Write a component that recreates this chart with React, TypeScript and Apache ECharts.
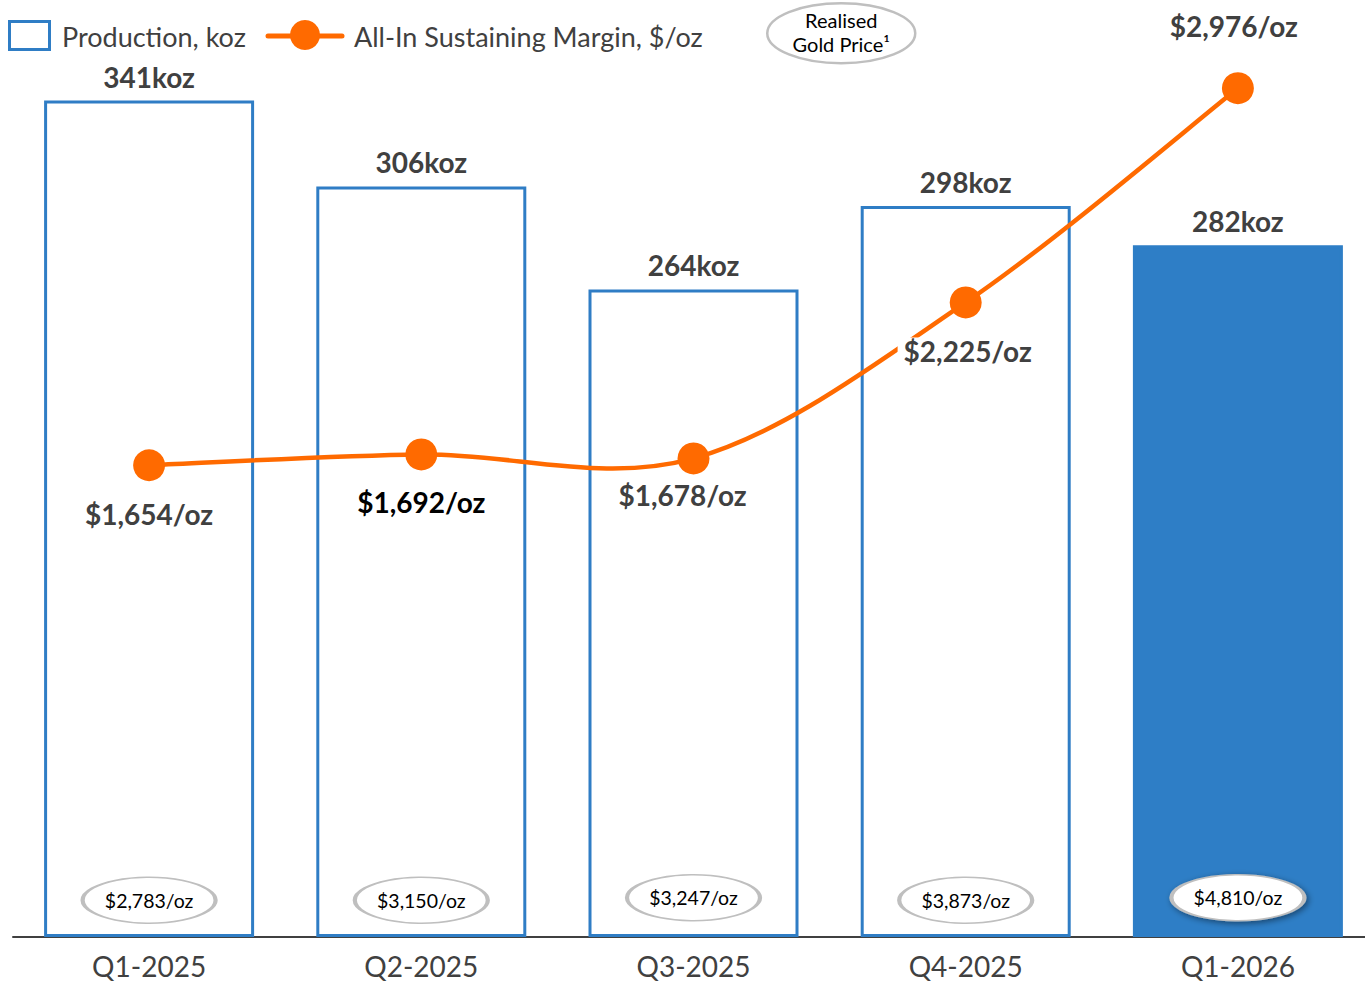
import React, { useEffect, useRef } from "react";
import * as echarts from "echarts";

const categories = ["Q1-2025", "Q2-2025", "Q3-2025", "Q4-2025", "Q1-2026"];
const production = [341, 306, 264, 298, 282];
const aisMargin = [1654, 1692, 1678, 2225, 2976];
const goldPrice = [2783, 3150, 3247, 3873, 4810];

const FONT = "Lato, 'Noto Sans', sans-serif";
const BLUE = "#2F7DC5";
const ORANGE = "#FF6A00";
const GREY = "#404040";

const fmt = (v: number) => "$" + v.toLocaleString("en-US") + "/oz";

export default function App() {
  const ref = useRef<HTMLDivElement>(null);
  useEffect(() => {
    if (!ref.current) return;
    const chart = echarts.init(ref.current, null, { renderer: "svg" });
    const labelOffsets: [number, number][] = [
      [0, 49],
      [0, 48],
      [-11, 37],
      [0, 49],
      [-4, -62],
    ];
    const labelColors = [GREY, "#000000", GREY, GREY, GREY];
    chart.setOption({
      animation: false,
      textStyle: { fontFamily: FONT },
      grid: { left: 13, right: 6, top: 54, bottom: 45, containLabel: false },
      xAxis: {
        type: "category",
        data: categories,
        axisLine: { lineStyle: { color: GREY, width: 2 } },
        axisTick: { show: false },
        axisLabel: { fontSize: 28, color: GREY, margin: 15, fontFamily: FONT },
      },
      yAxis: [
        { type: "value", min: 0, max: 360, show: false, splitLine: { show: false } },
        { type: "value", min: 0, max: 3096, show: false, splitLine: { show: false } },
      ],
      series: [
        {
          name: "Production, koz",
          type: "bar",
          barWidth: 210,
          yAxisIndex: 0,
          itemStyle: { color: "#ffffff", borderColor: BLUE, borderWidth: 3 },
          label: {
            show: true,
            position: "top",
            distance: 10,
            formatter: (p: any) => p.value + "koz",
            fontSize: 28,
            fontWeight: "bold",
            color: GREY,
            fontFamily: FONT,
          },
          data: production.map((v, i) =>
            i === production.length - 1
              ? { value: v, itemStyle: { color: "#2E7EC6", borderColor: "#2E7EC6" } }
              : v
          ),
          z: 2,
        },
        {
          name: "Realised Gold Price",
          type: "scatter",
          yAxisIndex: 0,
          symbol: "circle",
          symbolSize: [133, 46],
          itemStyle: { color: "#ffffff", borderColor: "#BFBFBF", borderWidth: 2.5, opacity: 1 },
          label: {
            show: true,
            position: "inside",
            fontSize: 19.5,
            color: "#000000",
            fontFamily: FONT,
            formatter: (p: any) => fmt(goldPrice[p.dataIndex]),
          },
          data: goldPrice.map((_, i) =>
            i === goldPrice.length - 1
              ? {
                  value: 16,
                  itemStyle: {
                    shadowBlur: 6,
                    shadowColor: "rgba(0,0,0,0.45)",
                    shadowOffsetX: 2,
                    shadowOffsetY: 2,
                  },
                }
              : i === 2
              ? 16
              : 15
          ),
          z: 3,
          silent: true,
        },
        {
          name: "AISM curve",
          type: "custom",
          yAxisIndex: 1,
          z: 4,
          silent: true,
          data: aisMargin.map((v, i) => [i, v]),
          encode: { x: 0, y: 1 },
          renderItem: (params: any, api: any) => {
            if (params.dataIndex !== 0) return null;
            const pts = aisMargin.map((v, i) => api.coord([i, v]));
            const n = pts.length;
            let d = `M${pts[0][0]},${pts[0][1]}`;
            for (let i = 0; i < n - 1; i++) {
              const p0 = pts[Math.max(0, i - 1)];
              const p1 = pts[i];
              const p2 = pts[i + 1];
              const p3 = pts[Math.min(n - 1, i + 2)];
              const c1x = p1[0] + (p2[0] - p0[0]) / 6;
              const c1y = p1[1] + (p2[1] - p0[1]) / 6;
              const c2x = p2[0] - (p3[0] - p1[0]) / 6;
              const c2y = p2[1] - (p3[1] - p1[1]) / 6;
              d += ` C${c1x},${c1y} ${c2x},${c2y} ${p2[0]},${p2[1]}`;
            }
            return {
              type: "path",
              shape: { pathData: d },
              style: { fill: "none", stroke: ORANGE, lineWidth: 4.5 },
            };
          },
        },
        {
          name: "All-In Sustaining Margin, $/oz",
          type: "line",
          yAxisIndex: 1,
          symbol: "circle",
          symbolSize: 32,
          lineStyle: { color: ORANGE, width: 0, opacity: 0 },
          itemStyle: { color: ORANGE },
          data: aisMargin.map((v, i) => ({
            value: v,
            label: {
              show: true,
              position: "inside",
              offset: labelOffsets[i],
              formatter: fmt(v),
              fontSize: 28,
              fontWeight: "bold",
              color: labelColors[i],
              fontFamily: FONT,
              backgroundColor: i === 3 ? "#ffffff" : "transparent",
              padding: i === 3 ? [0, 2, 0, 6] : 0,
            },
          })),
          z: 5,
        },
      ],
      graphic: [
        {
          type: "rect",
          shape: { x: 9.5, y: 21.5, width: 40, height: 28 },
          style: { fill: "#ffffff", stroke: BLUE, lineWidth: 3 },
        },
        {
          type: "text",
          x: 62,
          y: 36,
          style: {
            text: "Production, koz",
            fontSize: 27,
            fill: GREY,
            fontFamily: FONT,
            verticalAlign: "middle",
          },
        },
        {
          type: "line",
          shape: { x1: 268, y1: 36, x2: 342, y2: 36 },
          style: { stroke: ORANGE, lineWidth: 5, lineCap: "round" },
        },
        {
          type: "circle",
          shape: { cx: 305, cy: 35, r: 15 },
          style: { fill: ORANGE },
        },
        {
          type: "text",
          x: 354,
          y: 36,
          style: {
            text: "All-In Sustaining Margin, $/oz",
            fontSize: 27,
            fill: GREY,
            fontFamily: FONT,
            verticalAlign: "middle",
          },
        },
        {
          type: "group",
          left: 766,
          top: 2,
          children: [
            {
              type: "ellipse",
              shape: { cx: 74, cy: 31, rx: 74, ry: 30 },
              style: { fill: "#ffffff", stroke: "#BFBFBF", lineWidth: 2.5 },
            },
            {
              type: "text",
              x: 74,
              y: 30,
              style: {
                text: "Realised\nGold Price\u00B9",
                fontSize: 20,
                lineHeight: 24,
                fill: "#000000",
                fontFamily: FONT,
                align: "center",
                verticalAlign: "middle",
              },
            },
          ],
        },
      ],
    });
    return () => chart.dispose();
  }, []);
  return (
    <div
      ref={ref}
      style={{ position: "fixed", left: 0, top: 0, width: 1380, height: 982, background: "#fff" }}
    />
  );
}
